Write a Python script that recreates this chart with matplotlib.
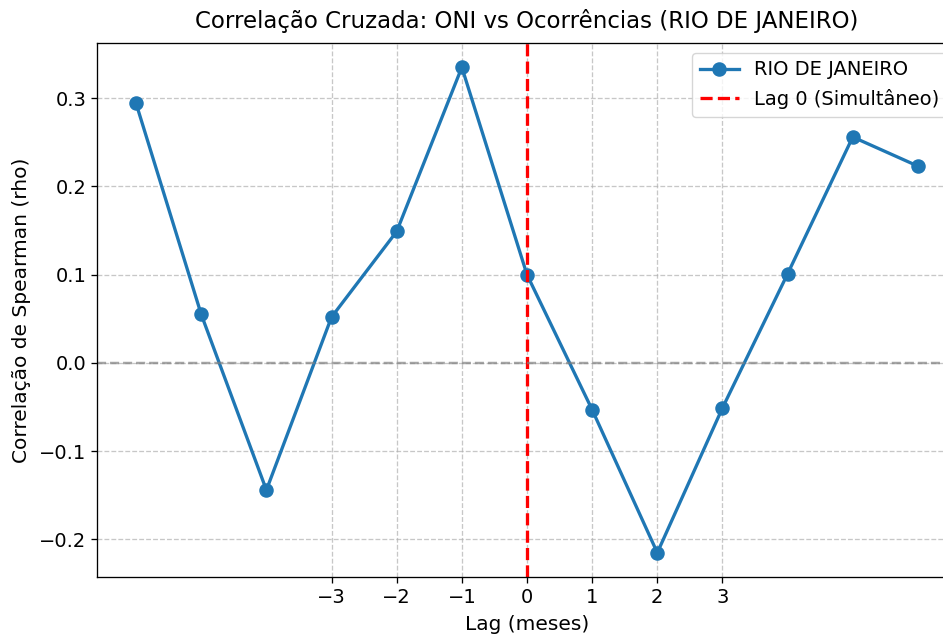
import matplotlib
matplotlib.use("Agg")
import matplotlib.pyplot as plt

lags = [-6, -5, -4, -3, -2, -1, 0, 1, 2, 3, 4, 5, 6]
rho = [0.294, 0.055, -0.144, 0.052, 0.149, 0.335, 0.100,
       -0.053, -0.215, -0.051, 0.101, 0.256, 0.223]
tick_lags = [-3, -2, -1, 0, 1, 2, 3]
city = "RIO DE JANEIRO"

s = 1.18  # reference rendered a bit larger than dpi 100

fig = plt.figure(figsize=(9.43, 6.35), dpi=100)
ax = fig.add_axes([97 / 943, 1 - 577 / 635, 860 / 943, 534 / 635])

ax.plot(lags, rho, marker="o", color="#1f77b4", lw=2 * s, ms=8 * s, label=city)
ax.axvline(0, color="red", ls="--", lw=2 * s, label="Lag 0 (Simultâneo)")
ax.axhline(0, color="gray", ls="--", lw=1.5 * s, alpha=0.7)

ax.set_xticks(tick_lags)
ax.set_title(f"Correlação Cruzada: ONI vs Ocorrências ({city})", fontsize=16.5, pad=11)
ax.set_xlabel("Lag (meses)", fontsize=14.5, labelpad=6)
ax.set_ylabel("Correlação de Spearman (rho)", fontsize=14.5, labelpad=6)
ax.tick_params(labelsize=14, width=0.8 * s, length=3.5 * s)
for sp in ax.spines.values():
    sp.set_linewidth(0.8 * s)
ax.grid(True, ls="--", alpha=0.7, lw=0.8 * s)
ax.legend(loc="upper right", fontsize=14)

fig.savefig("out.png", dpi=100)
